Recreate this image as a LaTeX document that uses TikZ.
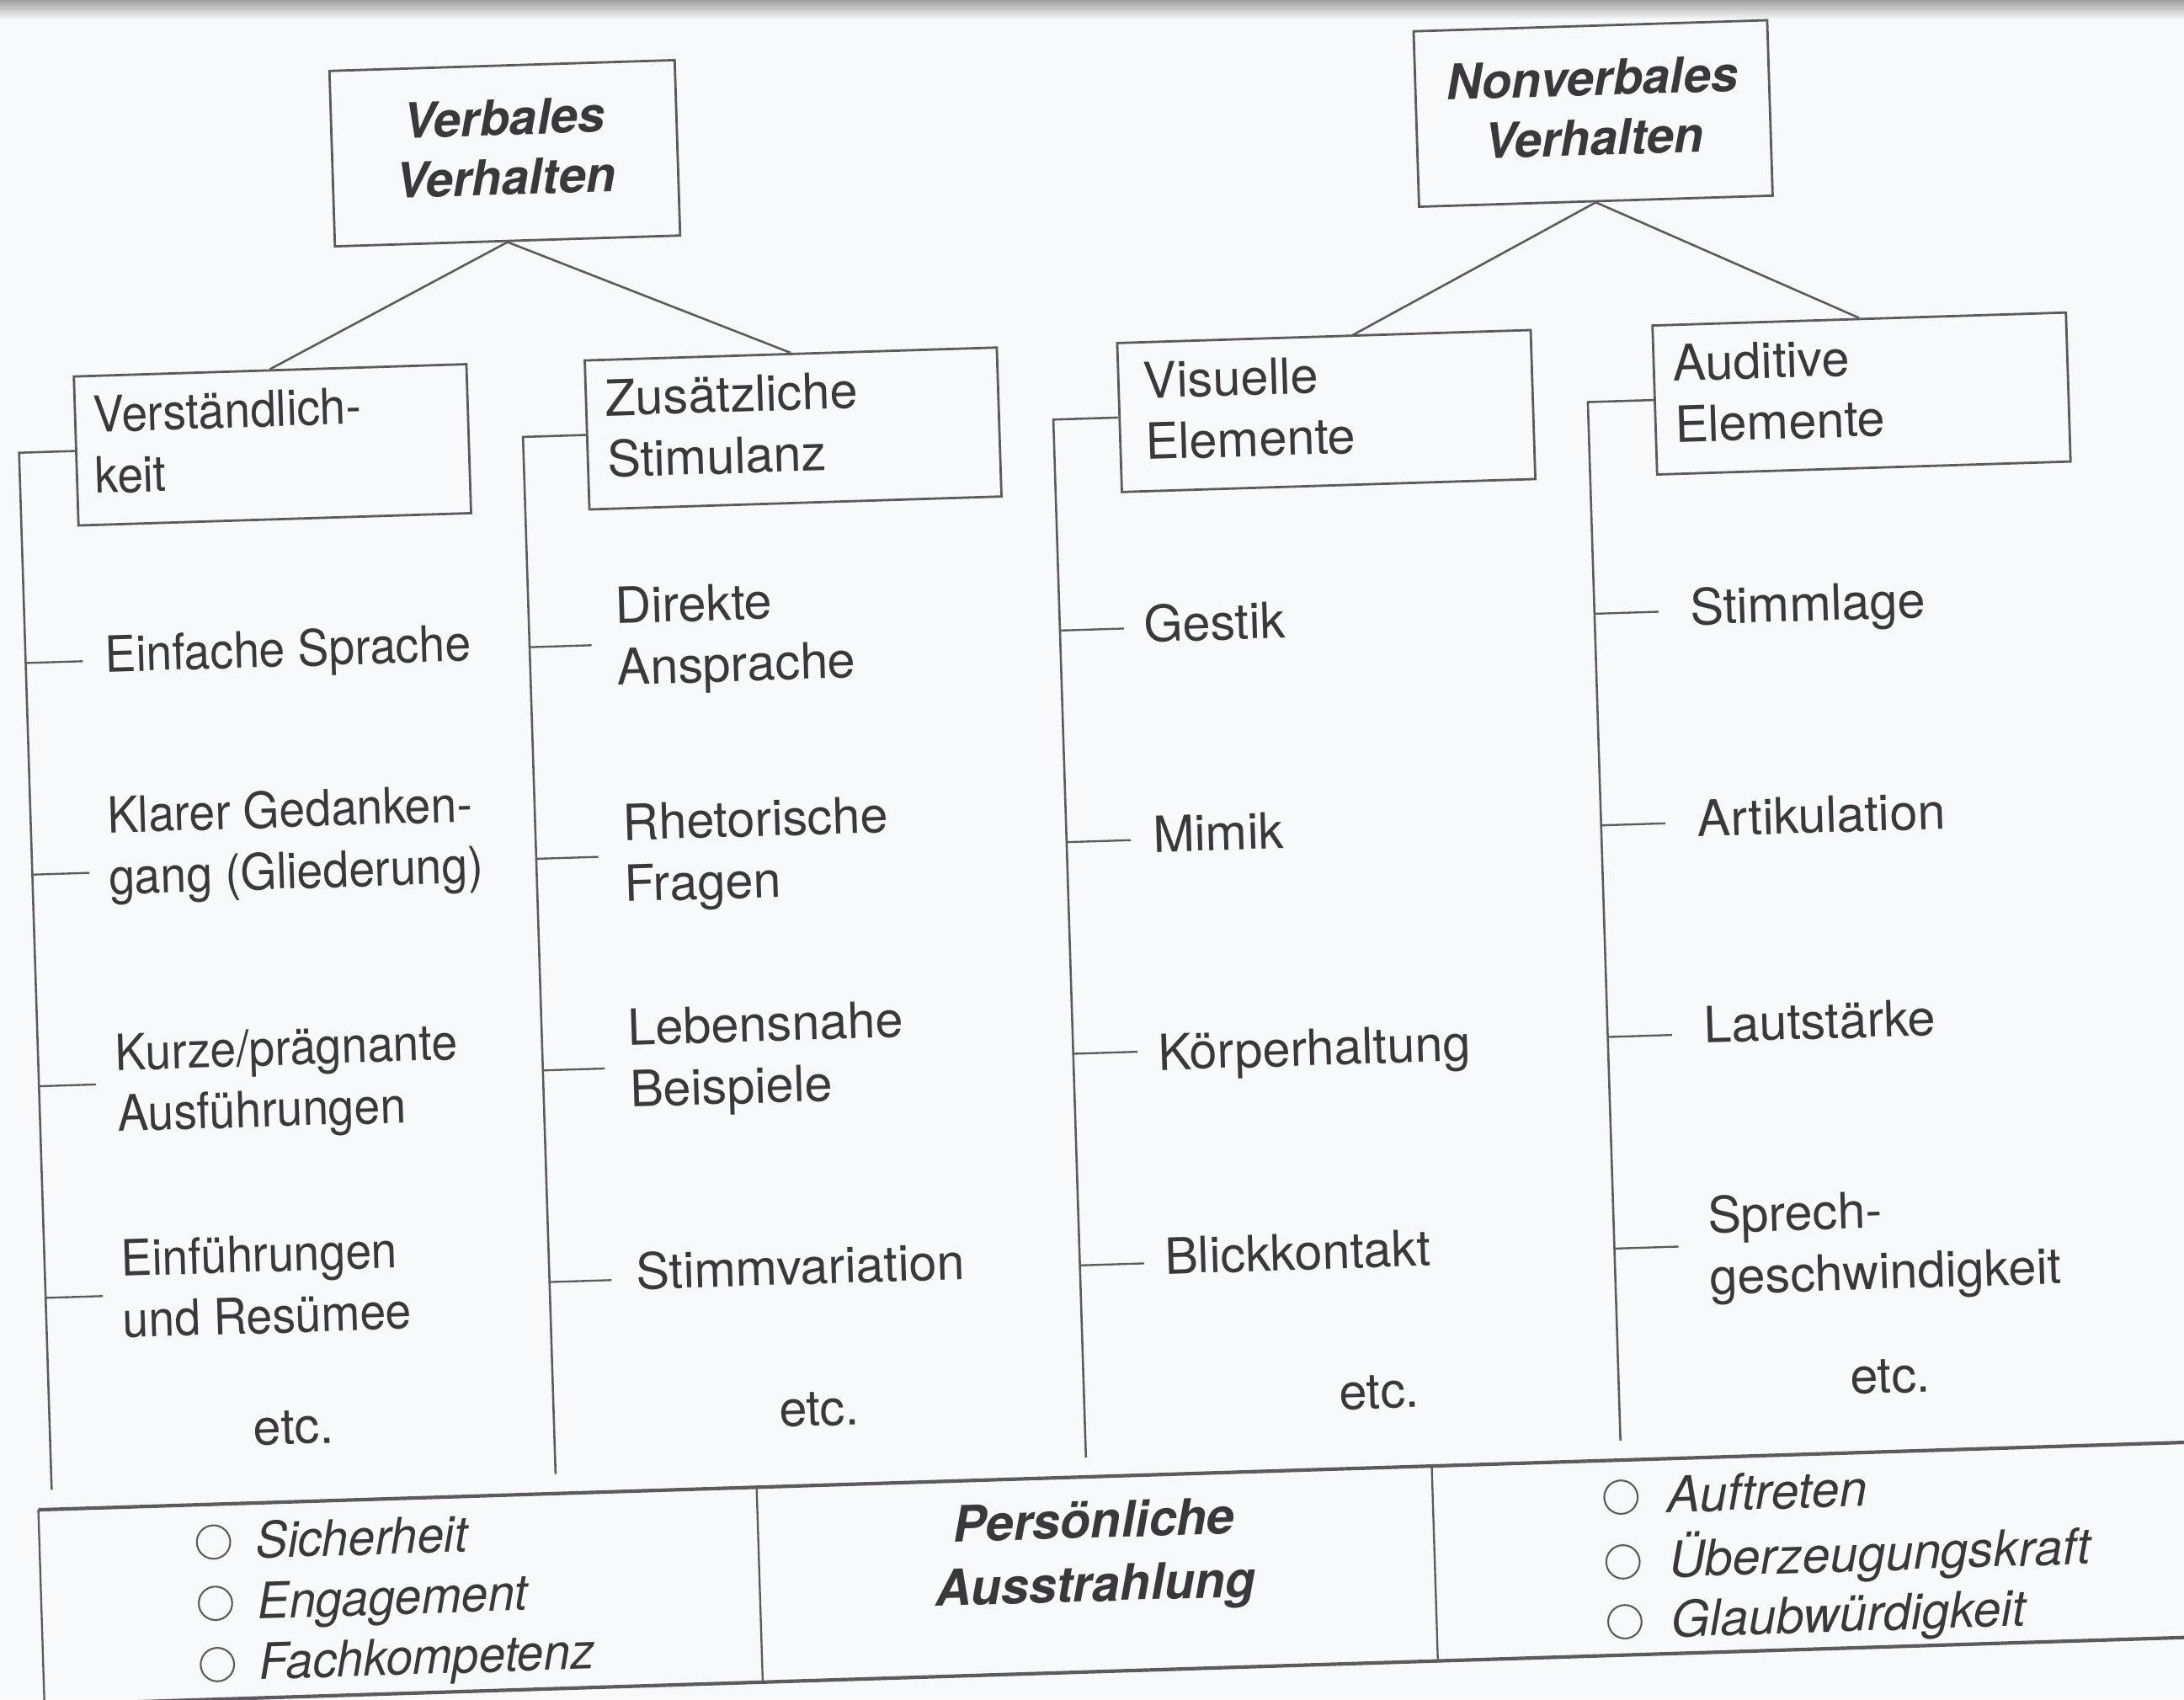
\documentclass[tikz,border=0pt]{standalone}
\usepackage{graphicx}
\usepackage{fontspec}
\setmainfont{TeX Gyre Heros}
\definecolor{ink}{RGB}{58,56,60}
\definecolor{linec}{RGB}{92,90,96}
\definecolor{paper}{RGB}{248,249,251}
\newcommand{\twol}[2]{\begin{tabular}[t]{@{}l@{}}#1\\#2\end{tabular}}
\newcommand{\twoc}[2]{\begin{tabular}[t]{@{}c@{}}#1\\#2\end{tabular}}
\newcommand{\narrow}[1]{\scalebox{0.93}[1]{#1}}
\begin{document}
\begin{tikzpicture}[x=0.05cm,y=-0.05cm,
  txt/.style={inner sep=0pt,text=ink,font=\fontsize{51}{62.6}\selectfont,anchor=base west},
  etcnode/.style={inner sep=0pt,text=ink,font=\fontsize{51}{62.6}\selectfont,anchor=base},
  itemit/.style={inner sep=0pt,text=ink,font=\fontsize{51}{62.6}\selectfont\itshape,anchor=base west},
  headbox/.style={draw=linec,line width=2.4pt,text=ink,font=\fontsize{50}{61}\selectfont\bfseries\itshape,minimum height=6.3cm,inner sep=0pt},
  catbox/.style={draw=linec,line width=2.4pt,text=ink,font=\fontsize{51}{62.6}\selectfont,minimum height=5.35cm,inner ysep=0pt},
  conn/.style={draw=linec,line width=2.2pt},
  colline/.style={draw=linec,line width=2.2pt},
  tickline/.style={draw=linec,line width=2pt},
  frameline/.style={draw=linec,line width=3.6pt},
  divline/.style={draw=linec,line width=2pt},
  bullet/.style={circle,draw=linec,line width=1.8pt,minimum size=1.2cm,inner sep=0pt},
]
\useasboundingbox (0,0) rectangle (1568,1220);
\fill[paper] (0,0) rectangle (1568,1220);
\shade[top color=gray!75,bottom color=paper] (0,0) rectangle (1568,14);
\clip (0,0) rectangle (1568,1220);
\begin{scope}[rotate around={1.8:(784,610)},transform shape]
% top boxes
\node[headbox,minimum width=12.4cm] (verb) at (378.3,97) {\twoc{Verbales}{Verhalten}};
\node[headbox,minimum width=12.7cm] (nonv) at (1160.2,93) {\twoc{Nonverbales}{Verhalten}};
% category boxes
\node[catbox,inner xsep=0.65cm] (verst) at (205,301) {\makebox[12.8cm][l]{\narrow{\twol{Verständlich-}{keit}}}};
\node[catbox,inner xsep=0.7cm] (zus) at (579,301) {\makebox[13.4cm][l]{\twol{Zusätzliche}{Stimulanz}}};
\node[catbox,inner xsep=0.9cm] (vis) at (962,300.5) {\makebox[13.05cm][l]{\twol{Visuelle}{Elemente}}};
\node[catbox,inner xsep=0.7cm] (aud) at (1346.5,300) {\makebox[13.45cm][l]{\twol{Auditive}{Elemente}}};
% connectors
\coordinate (vistop) at (982,247);
\draw[conn] (verb.south) -- (verst.north);
\draw[conn] (verb.south) -- (zus.north);
\draw[conn] (nonv.south) -- (vistop);
\draw[conn] (nonv.south) -- (aud.north);
% column lines
\coordinate (h1) at (23,301);   \coordinate (v1) at (23,1046);
\coordinate (h2) at (385,301);  \coordinate (v2) at (385,1046);
\coordinate (h3) at (766,300.5);\coordinate (v3) at (766,1046);
\coordinate (h4) at (1150,300); \coordinate (v4) at (1150,1046);
\draw[colline] (verst.west) -- (h1) -- (v1);
\draw[colline] (zus.west) -- (h2) -- (v2);
\draw[colline] (vis.west) -- (h3) -- (v3);
\draw[colline] (aud.west) -- (h4) -- (v4);
% ticks
\foreach \v in {452,604,756,908}{
  \draw[tickline] (23,\v) -- (64,\v);
  \draw[tickline] (385,\v) -- (429.5,\v);
  \draw[tickline] (766,\v) -- (812,\v);
  \draw[tickline] (1150,\v) -- (1196,\v);
}
% column 1
\node[txt] (e11) at (80,460.4) {\narrow{Einfache Sprache}};
\node[txt] (e12) at (78,575.8) {\narrow{\twol{Klarer Gedanken-}{gang (Gliederung)}}};
\node[txt] (e13) at (78.5,746.3) {\narrow{\twol{Kurze/prägnante}{Ausführungen}}};
\node[txt] (e14) at (78,894.3) {\narrow{\twol{Einführungen}{und Resümee}}};
\node[etcnode] (e15) at (198,1018.5) {etc.};
% column 2
\node[txt] (e21) at (447.3,437.1) {\twol{Direkte}{Ansprache}};
\node[txt] (e22) at (447.7,592.8) {\twol{Rhetorische}{Fragen}};
\node[txt] (e23) at (447,740.2) {\twol{Lebensnahe}{Beispiele}};
\node[txt] (e24) at (447.4,915.4) {Stimmvariation};
\node[etcnode] (e25) at (575.6,1017.1) {etc.};
% column 3
\node[txt] (e31) at (826.3,462.3) {Gestik};
\node[txt] (e32) at (828.1,613.2) {Mimik};
\node[txt] (e33) at (826.7,769.8) {Körperhaltung};
\node[txt] (e34) at (827.1,916.2) {Blickkontakt};
\node[etcnode] (e35) at (978,1017.3) {etc.};
% column 4
\node[txt] (e41) at (1218.5,462.1) {Stimmlage};
\node[txt] (e42) at (1218.9,614.3) {Artikulation};
\node[txt] (e43) at (1218.9,762.1) {Lautstärke};
\node[txt] (e44) at (1217.6,899) {\twol{Sprech-}{geschwindigkeit}};
\node[etcnode] (e45) at (1345,1017.7) {etc.};
% bottom box
\coordinate (bbtl) at (13,1060);  \coordinate (bbbl) at (13,1200);
\coordinate (bbtr) at (1720,1060);\coordinate (bbbr) at (1720,1200);
\coordinate (d1t) at (529,1060);  \coordinate (d1b) at (529,1200);
\coordinate (d2t) at (1014,1060); \coordinate (d2b) at (1014,1200);
\draw[divline] (bbtl) -- (bbbl);
\draw[divline] (d1t) -- (d1b);
\draw[divline] (d2t) -- (d2b);
\draw[frameline] (bbtl) -- (bbtr);
\draw[frameline] (bbbl) -- (bbbr);
% left items
\node[bullet] (o1) at (138,1087) {};
\node[bullet] (o2) at (138,1131) {};
\node[bullet] (o3) at (138,1175) {};
\node[itemit] (s1) at (168,1099.5) {\scalebox{0.96}[1]{Sicherheit}};
\node[itemit] (s2) at (168,1143) {\scalebox{0.96}[1]{Engagement}};
\node[itemit] (s3) at (168,1186.5) {\scalebox{0.96}[1]{Fachkompetenz}};
% middle
\node[inner sep=0pt,text=ink,font=\fontsize{51}{64.7}\selectfont\bfseries\itshape,anchor=base] (pa) at (770,1104) {\twoc{Persönliche}{Ausstrahlung}};
% right items
\node[bullet] (o4) at (1149,1086.5) {};
\node[bullet] (o5) at (1149,1133) {};
\node[bullet] (o6) at (1149,1176) {};
\node[itemit] (r1) at (1182,1098.5) {Auftreten};
\node[itemit] (r2) at (1182,1145) {Überzeugungskraft};
\node[itemit] (r3) at (1182,1188) {Glaubwürdigkeit};
\end{scope}
\end{tikzpicture}
\end{document}
